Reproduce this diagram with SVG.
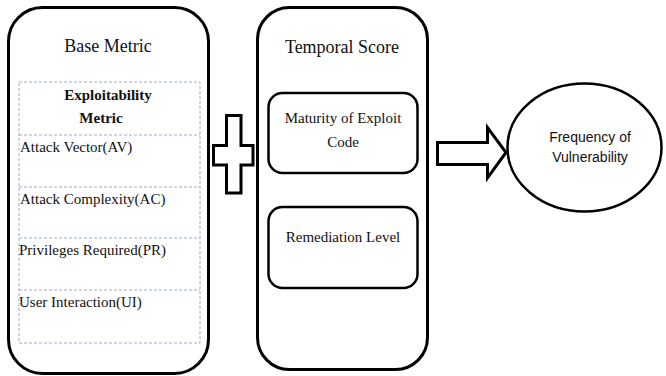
<svg xmlns="http://www.w3.org/2000/svg" width="666" height="376" viewBox="0 0 666 376">
<style>
.box{fill:#fff;stroke:#000;stroke-width:3}
.inner{fill:#fff;stroke:#000;stroke-width:2.5}
.dash{fill:none;stroke:#9aaccc;stroke-width:1;stroke-dasharray:3,2}
.serif{font-family:"Liberation Serif","Times New Roman",serif;fill:#111}
.title{font-size:18px}
.item{font-size:15px}
.sans{font-family:"Liberation Sans",Arial,sans-serif;font-size:14px;fill:#111}
</style>
<rect width="666" height="376" fill="#fff"/>
<g id="base-metric">
<rect class="box" x="8.5" y="7.5" width="200" height="366" rx="34"/>
<text class="serif title" x="108" y="52" text-anchor="middle">Base Metric</text>
<rect class="dash" x="19" y="82" width="181" height="261"/>
<line class="dash" x1="19" y1="135" x2="200" y2="135"/>
<line class="dash" x1="19" y1="187" x2="200" y2="187"/>
<line class="dash" x1="19" y1="238" x2="200" y2="238"/>
<line class="dash" x1="19" y1="290" x2="200" y2="290"/>
<text class="serif item" x="108" y="100" text-anchor="middle" font-weight="bold">Exploitability</text>
<text class="serif item" x="101" y="123" text-anchor="middle" font-weight="bold">Metric</text>
<text class="serif item" x="20" y="152">Attack Vector(AV)</text>
<text class="serif item" x="20" y="204">Attack Complexity(AC)</text>
<text class="serif item" x="19" y="255">Privileges  Required(PR)</text>
<text class="serif item" x="19" y="307">User Interaction(UI)</text>
</g>
<g id="plus">
<path d="M226.5 115.5 H241 V145.5 H253 V165 H241 V193 H226.5 V165 H213.5 V145.5 H226.5 Z" fill="#fff" stroke="#000" stroke-width="3"/>
</g>
<g id="temporal-score">
<rect class="box" x="257.5" y="7.5" width="170" height="362" rx="32"/>
<text class="serif title" x="342" y="53" text-anchor="middle">Temporal  Score</text>
</g>
<g id="maturity">
<rect class="inner" x="268.5" y="93" width="149" height="80" rx="14"/>
<text class="serif item" x="343" y="123" text-anchor="middle">Maturity of Exploit</text>
<text class="serif item" x="343" y="147" text-anchor="middle">Code</text>
</g>
<g id="remediation">
<rect class="inner" x="268.5" y="207" width="149" height="81" rx="14"/>
<text class="serif item" x="343" y="242" text-anchor="middle">Remediation Level</text>
</g>
<g id="connectors">
<path d="M437.5 142.5 H487.5 V127.5 L506 152.5 L487.5 178 V164.5 H437.5 Z" fill="#fff" stroke="#000" stroke-width="3"/>
</g>
<g id="frequency">
<ellipse cx="584.5" cy="147.5" rx="77" ry="64" fill="#fff" stroke="#000" stroke-width="2.5"/>
<text class="sans" x="590" y="142" text-anchor="middle">Frequency of</text>
<text class="sans" x="590" y="162" text-anchor="middle">Vulnerability</text>
</g>
</svg>
